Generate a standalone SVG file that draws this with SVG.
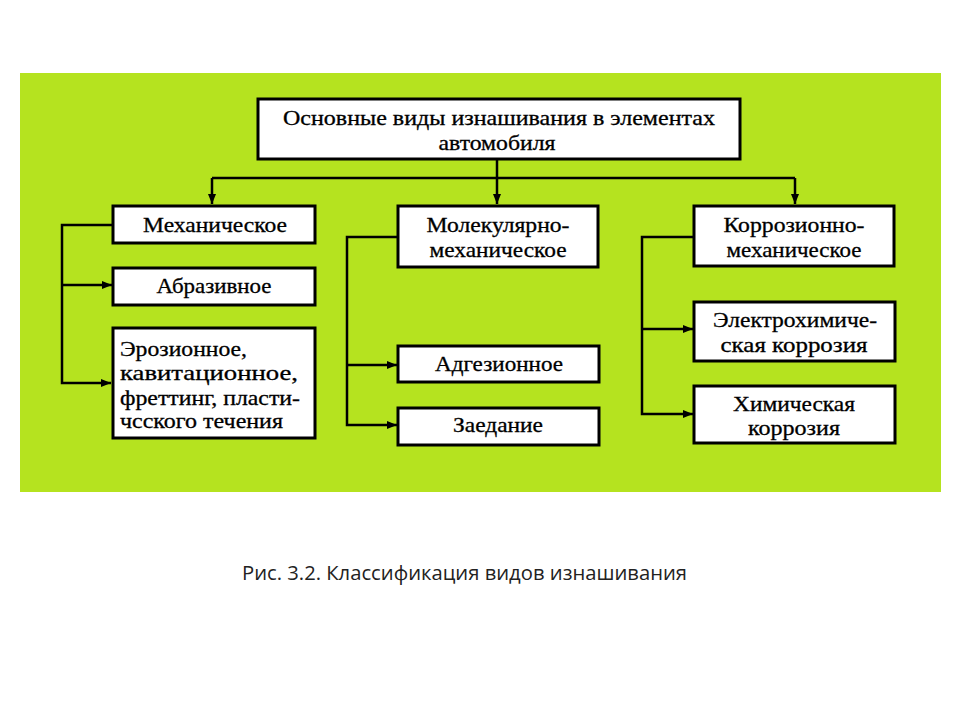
<svg xmlns="http://www.w3.org/2000/svg" width="960" height="720" viewBox="0 0 960 720">
<defs>
<style>
.box{fill:#fff;stroke:#000;stroke-width:3}
.t{font-family:"Liberation Serif","Times New Roman",serif;font-size:21px;fill:#000;stroke:#000;stroke-width:0.3}
.c{text-anchor:middle}
.ln{fill:none;stroke:#000;stroke-width:2.5}
.cap{font-family:"Open Sans","Liberation Sans",Arial,sans-serif;font-size:20px;fill:#222}
</style>
<marker id="ah" viewBox="0 0 10 8" refX="10" refY="4" markerWidth="10" markerHeight="8" markerUnits="userSpaceOnUse" orient="auto">
<path d="M0,0 L10,4 L0,8 z" fill="#000"/>
</marker>
</defs>
<rect width="960" height="720" fill="#fff"/>
<rect x="20" y="73" width="921" height="419" fill="#b5e31f"/>

<g id="connectors">
<path class="ln" d="M497,159 V204" marker-end="url(#ah)"/>
<path class="ln" d="M212,178 H795"/>
<path class="ln" d="M212,178 V204" marker-end="url(#ah)"/>
<path class="ln" d="M795,178 V204" marker-end="url(#ah)"/>
<path class="ln" d="M113,225 H62 V383 H111" marker-end="url(#ah)"/>
<path class="ln" d="M62,285 H112" marker-end="url(#ah)"/>
<path class="ln" d="M398,237 H347 V425 H397" marker-end="url(#ah)"/>
<path class="ln" d="M347,365 H397" marker-end="url(#ah)"/>
<path class="ln" d="M694,237 H642 V414 H693" marker-end="url(#ah)"/>
<path class="ln" d="M642,329 H693" marker-end="url(#ah)"/>
</g>

<g id="root">
<rect class="box" x="258" y="99" width="482" height="60"/>
<text class="t c" x="499" y="125" textLength="432" lengthAdjust="spacingAndGlyphs">Основные виды изнашивания в элементах</text>
<text class="t c" x="497" y="150" textLength="117" lengthAdjust="spacingAndGlyphs">автомобиля</text>
</g>

<g id="mech">
<rect class="box" x="113" y="206" width="202" height="37"/>
<text class="t c" x="215" y="232" textLength="144" lengthAdjust="spacingAndGlyphs">Механическое</text>
</g>

<g id="molmech">
<rect class="box" x="398" y="206" width="200" height="61"/>
<text class="t c" x="498" y="232" textLength="143" lengthAdjust="spacingAndGlyphs">Молекулярно-</text>
<text class="t c" x="498" y="257" textLength="137" lengthAdjust="spacingAndGlyphs">механическое</text>
</g>

<g id="corrmech">
<rect class="box" x="694" y="206" width="200" height="60"/>
<text class="t c" x="794" y="232" textLength="141" lengthAdjust="spacingAndGlyphs">Коррозионно-</text>
<text class="t c" x="794" y="257" textLength="135" lengthAdjust="spacingAndGlyphs">механическое</text>
</g>

<g id="abrasive">
<rect class="box" x="113" y="268" width="202" height="37"/>
<text class="t c" x="214" y="293" textLength="115" lengthAdjust="spacingAndGlyphs">Абразивное</text>
</g>

<g id="erosion">
<rect class="box" x="113" y="328" width="202" height="110"/>
<text class="t" x="120" y="356" textLength="127" lengthAdjust="spacingAndGlyphs">Эрозионное,</text>
<text class="t" x="120" y="380" textLength="178" lengthAdjust="spacingAndGlyphs">кавитационное,</text>
<text class="t" x="120" y="405" textLength="180" lengthAdjust="spacingAndGlyphs">фреттинг, пласти-</text>
<text class="t" x="120" y="428" textLength="163" lengthAdjust="spacingAndGlyphs">чсского течения</text>
</g>

<g id="adhesion">
<rect class="box" x="398" y="346" width="201" height="36"/>
<text class="t c" x="499" y="371" textLength="128" lengthAdjust="spacingAndGlyphs">Адгезионное</text>
</g>

<g id="seizure">
<rect class="box" x="398" y="408" width="201" height="37"/>
<text class="t c" x="498" y="432" textLength="90" lengthAdjust="spacingAndGlyphs">Заедание</text>
</g>

<g id="electrochem">
<rect class="box" x="694" y="302" width="201" height="59"/>
<text class="t c" x="795" y="327" textLength="164" lengthAdjust="spacingAndGlyphs">Электрохимиче-</text>
<text class="t c" x="794" y="352" textLength="147" lengthAdjust="spacingAndGlyphs">ская коррозия</text>
</g>

<g id="chem">
<rect class="box" x="694" y="386" width="201" height="57"/>
<text class="t c" x="794" y="411" textLength="122" lengthAdjust="spacingAndGlyphs">Химическая</text>
<text class="t c" x="794" y="435" textLength="92" lengthAdjust="spacingAndGlyphs">коррозия</text>
</g>

<text class="cap" x="242" y="580" textLength="445" lengthAdjust="spacingAndGlyphs">Рис. 3.2. Классификация видов изнашивания</text>
</svg>
